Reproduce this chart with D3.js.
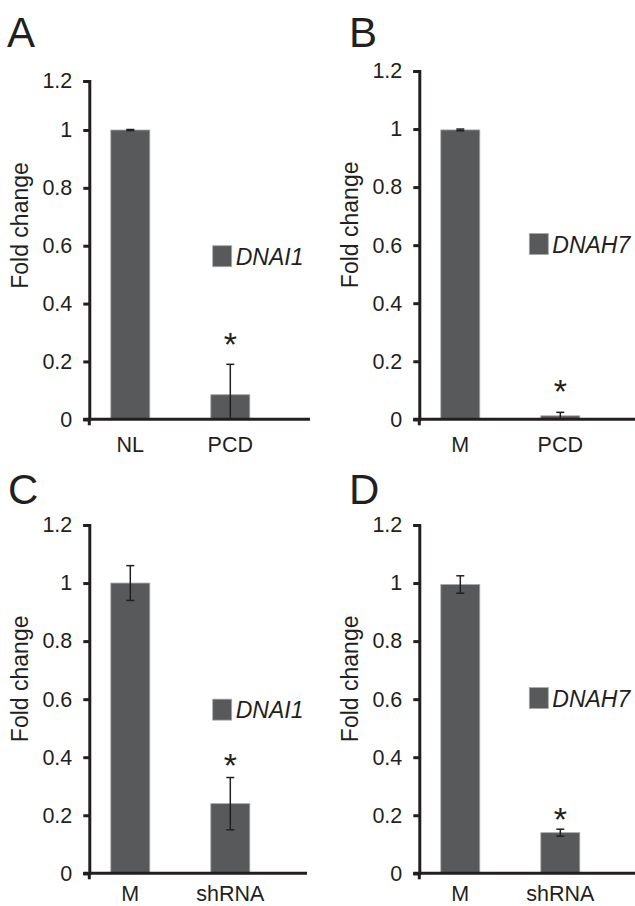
<!DOCTYPE html>
<html>
<head>
<meta charset="utf-8">
<script src="https://cdn.jsdelivr.net/npm/d3@7"></script>
<style>
  body { margin: 0; background: #fff; }
  text { font-family: "Liberation Sans", Arial, sans-serif; fill: #231f20; }
</style>
</head>
<body>
<div id="chart-area"></div>
<script>
// values
const categoriesA = ["NL", "PCD"];
const categoriesB = ["M", "PCD"];
const categoriesC = ["M", "shRNA"];
const categoriesD = ["M", "shRNA"];

const foldA = [1.0, 0.085];
const errA = [0.002, 0.105];
const foldB = [0.997, 0.012];
const errB = [0.003, 0.012];
const foldC = [1.0, 0.24];
const errC = [0.06, 0.09];
const foldD = [0.995, 0.14];
const errD = [0.03, 0.012];

const starsA = [false, true];
const starsB = [false, true];
const starsC = [false, true];
const starsD = [false, true];

const genes = ["DNAI1", "DNAH7", "DNAI1", "DNAH7"];
const letters = ["A", "B", "C", "D"];
const yTicks = [0, 0.2, 0.4, 0.6, 0.8, 1, 1.2];

const barColor = "#58595b";

const panels = [
  { cats: categoriesA, vals: foldA, errs: errA, stars: starsA,
    ax: 89.3, yDomain: [0, 1, 1.2], yRange: [419.3, 130, 81], xEnd: 310, catDy: 33,
    legX: 123.4, legV: 0.6, starGap: 27, letterX: 7, letterY: 47 },
  { cats: categoriesB, vals: foldB, errs: errB, stars: starsB,
    ax: 419.3, yDomain: [0, 1.2], yRange: [419.3, 71], xEnd: 640, catDy: 33,
    legX: 110, legV: 0.64, starGap: 28, letterX: 349, letterY: 47 },
  { cats: categoriesC, vals: foldC, errs: errC, stars: starsC,
    ax: 89.3, yDomain: [0, 1.2], yRange: [873.3, 525], xEnd: 307, catDy: 28,
    legX: 123.4, legV: 0.6, starGap: 20, letterX: 8, letterY: 504 },
  { cats: categoriesD, vals: foldD, errs: errD, stars: starsD,
    ax: 419.3, yDomain: [0, 1.2], yRange: [873.3, 525], xEnd: 640, catDy: 28,
    legX: 110, legV: 0.64, starGap: 17, letterX: 349, letterY: 504 }
];

const svg = d3.select("#chart-area")
              .append("svg")
              .attr("width", 635)
              .attr("height", 906);

const drawPanel = (p, i) => {
  const g = svg.append("g");
  const y = d3.scaleLinear().domain(p.yDomain).range(p.yRange);
  const y0 = y(0);
  const x = d3.scaleBand()
              .domain(p.cats)
              .range([p.ax + 21.5, p.ax + 160.5])
              .paddingInner(0.61)
              .paddingOuter(0);

  const rows = p.cats.map((c, j) => ({ cat: c, v: p.vals[j], e: p.errs[j], star: p.stars[j] }));

  // bars
  g.selectAll("rect.bar")
   .data(rows)
   .enter()
   .append("rect")
   .attr("class", "bar")
   .attr("x", d => x(d.cat))
   .attr("width", x.bandwidth())
   .attr("y", d => y(d.v))
   .attr("height", d => y0 - y(d.v))
   .attr("fill", barColor)
   .attr("stroke", "#a7a8aa")
   .attr("stroke-width", 0.8);

  // error bars
  const eb = g.selectAll("g.err")
              .data(rows)
              .enter()
              .append("g")
              .attr("class", "err")
              .attr("stroke", "#231f20")
              .attr("stroke-width", 1.5);
  const cx = d => x(d.cat) + x.bandwidth() / 2;
  eb.append("line")
    .attr("x1", cx).attr("x2", cx)
    .attr("y1", d => y(d.v + d.e))
    .attr("y2", d => y(Math.max(0, d.v - d.e)));
  eb.append("line")
    .attr("x1", d => cx(d) - 4).attr("x2", d => cx(d) + 4)
    .attr("y1", d => y(d.v + d.e)).attr("y2", d => y(d.v + d.e));
  eb.filter(d => d.v - d.e > 0)
    .append("line")
    .attr("x1", d => cx(d) - 4).attr("x2", d => cx(d) + 4)
    .attr("y1", d => y(d.v - d.e)).attr("y2", d => y(d.v - d.e));

  // asterisks
  g.selectAll("text.star")
   .data(rows.filter(d => d.star))
   .enter()
   .append("text")
   .attr("class", "star")
   .attr("text-anchor", "middle")
   .attr("x", cx)
   .attr("y", d => y(d.v + d.e) - p.starGap + 19)
   .style("font-size", "34px")
   .text("*");

  // y axis
  const axisY = d3.axisLeft(y)
                  .tickValues(yTicks)
                  .tickSize(6)
                  .tickPadding(11)
                  .tickFormat(d => String(+d.toFixed(1)));
  const ga = g.append("g")
              .attr("transform", "translate(" + p.ax + ",0)")
              .call(axisY);
  ga.select(".domain").attr("stroke", "#231f20").attr("stroke-width", 3);
  ga.selectAll(".tick line").attr("stroke", "#231f20").attr("stroke-width", 3);
  ga.selectAll(".tick text")
    .style("font-size", "21.5px")
    .style("font-family", "'Liberation Sans', Arial, sans-serif")
    .attr("fill", "#231f20");

  // x axis line, y axis stub below it
  g.append("line")
   .attr("x1", p.ax - 6).attr("x2", p.xEnd)
   .attr("y1", y0).attr("y2", y0)
   .attr("stroke", "#231f20").attr("stroke-width", 3);
  g.append("line")
   .attr("x1", p.ax).attr("x2", p.ax)
   .attr("y1", y0).attr("y2", y0 + 6)
   .attr("stroke", "#231f20").attr("stroke-width", 3);

  g.selectAll("text.cat")
   .data(rows)
   .enter()
   .append("text")
   .attr("class", "cat")
   .attr("text-anchor", "middle")
   .attr("x", cx)
   .attr("y", y0 + p.catDy)
   .style("font-size", "21.5px")
   .text(d => d.cat);

  // y label
  const ly = y(0.67);
  g.append("text")
   .attr("text-anchor", "middle")
   .attr("transform", `translate(${p.ax - 61},${ly}) rotate(-90)`)
   .style("font-size", "23px")
   .text("Fold change");

  // legend
  const legTop = y(p.legV);
  g.append("rect")
   .attr("x", p.ax + p.legX)
   .attr("y", legTop)
   .attr("width", 19)
   .attr("height", 21)
   .attr("fill", barColor)
   .attr("stroke", "#a7a8aa")
   .attr("stroke-width", 0.8);
  g.append("text")
   .attr("x", p.ax + p.legX + 23)
   .attr("y", legTop + 19)
   .style("font-size", "23px")
   .style("font-style", "italic")
   .text(genes[i]);

  // panel letter
  g.append("text")
   .attr("x", p.letterX)
   .attr("y", p.letterY)
   .style("font-size", "42px")
   .text(letters[i]);
};

panels.forEach(drawPanel);
</script>
</body>
</html>
